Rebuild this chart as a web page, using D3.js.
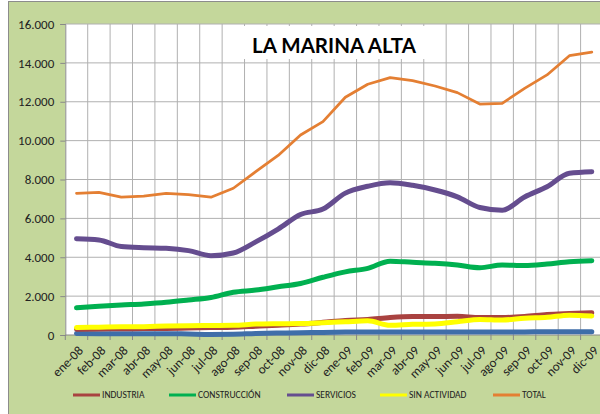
<!DOCTYPE html>
<html>
<head>
<meta charset="utf-8">
<script src="https://cdn.jsdelivr.net/npm/d3@7"></script>
<style>
  body { margin: 0; background: #fff; }
  svg { display: block; }
</style>
</head>
<body>
<div id="chart"></div>
<script>
// months of 2008-2009
const months = ["ene-08","feb-08","mar-08","abr-08","may-08","jun-08","jul-08","ago-08","sep-08","oct-08","nov-08","dic-08",
                "ene-09","feb-09","mar-09","abr-09","may-09","jun-09","jul-09","ago-09","sep-09","oct-09","nov-09","dic-09"];

const agricultura = [80, 70, 60, 60, 70, 50, 30, 40, 80, 100, 120, 130, 150, 160, 150, 160, 150, 160, 150, 150, 160, 170, 170, 170];
const industria = [300, 310, 320, 330, 340, 360, 380, 400, 450, 500, 560, 650, 750, 800, 900, 950, 950, 960, 900, 900, 950, 1050, 1100, 1140];
const construccion = [1400, 1480, 1545, 1600, 1680, 1800, 1930, 2200, 2310, 2480, 2650, 2970, 3250, 3430, 3800, 3740, 3690, 3600, 3460, 3600, 3570, 3650, 3770, 3820];
const servicios = [4950, 4890, 4550, 4490, 4460, 4340, 4080, 4220, 4790, 5450, 6200, 6480, 7300, 7650, 7830, 7700, 7460, 7110, 6560, 6420, 7100, 7630, 8320, 8400];
const sinActividad = [380, 400, 420, 430, 460, 480, 490, 500, 560, 580, 590, 630, 680, 730, 500, 550, 570, 680, 800, 770, 860, 910, 1020, 980];
const total = [7290, 7340, 7090, 7150, 7290, 7220, 7090, 7550, 8400, 9240, 10290, 10980, 12230, 12900, 13240, 13090, 12810, 12470, 11880, 11920, 12690, 13380, 14370, 14550];

const yTicks = [0, 2000, 4000, 6000, 8000, 10000, 12000, 14000, 16000];

const series = [
  { name: "AGRICULTURA", values: agricultura, color: "#3f6ea9", width: 5, smooth: true },
  { name: "INDUSTRIA", values: industria, color: "#a94240", width: 5, smooth: true },
  { name: "SIN ACTIVIDAD", values: sinActividad, color: "#ffff00", width: 5, smooth: true },
  { name: "CONSTRUCCIÓN", values: construccion, color: "#00b050", width: 5, smooth: true },
  { name: "SERVICIOS", values: servicios, color: "#654d8f", width: 5, smooth: true },
  { name: "TOTAL", values: total, color: "#e47f33", width: 2.75, smooth: false }
];
// agricultura has no legend entry in the original
const legendOrder = ["INDUSTRIA", "CONSTRUCCIÓN", "SERVICIOS", "SIN ACTIVIDAD", "TOTAL"];

const W = 600, H = 414;
const plotL = 65.3, plotR = 603, plotT = 24, plotB = 335;

const svg = d3.select("#chart").append("svg")
    .attr("width", W)
    .attr("height", H)
    .style("font-family", "Carlito, Lato, 'Liberation Sans', sans-serif");

// outer chart area
svg.append("rect")
    .attr("x", 8.5).attr("y", 1.5)
    .attr("width", W + 10).attr("height", H + 10)
    .attr("fill", "#c4d79b")
    .attr("stroke", "#8c8c8c");

svg.append("rect")
    .attr("x", plotL).attr("y", plotT)
    .attr("width", plotR - plotL).attr("height", plotB - plotT)
    .attr("fill", "#fff");

const x = d3.scaleBand().domain(months).range([plotL, plotR]);
const y = d3.scaleLinear().domain([0, 16000]).range([plotB, plotT]);
const cx = d => x(d) + x.bandwidth() / 2;

const esFormat = d3.formatLocale({ decimal: ",", thousands: ".", grouping: [3], currency: ["", "€"] }).format(",d");

// grid
svg.append("g").selectAll("line")
    .data(yTicks.slice(1))
    .join("line")
    .attr("x1", plotL).attr("x2", plotR)
    .attr("y1", d => y(d)).attr("y2", d => y(d))
    .attr("stroke", "#b0b0b0").attr("stroke-width", 1);

svg.append("g").selectAll("line")
    .data(months.slice(1))
    .join("line")
    .attr("x1", d => x(d)).attr("x2", d => x(d))
    .attr("y1", plotT).attr("y2", plotB)
    .attr("stroke", "#b0b0b0").attr("stroke-width", 1);

// y axis
const yAxis = svg.append("g")
    .attr("transform", `translate(${plotL},0)`)
    .call(d3.axisLeft(y).tickValues(yTicks).tickFormat(esFormat).tickSize(5).tickPadding(6));
yAxis.select(".domain").attr("stroke", "#888");
yAxis.selectAll(".tick line").attr("stroke", "#888");
yAxis.selectAll("text").attr("font-size", 13).attr("fill", "#222")
    .style("font-family", "Carlito, 'Open Sans', sans-serif");

// x axis: ticks at category boundaries
const xAxis = svg.append("g").attr("transform", `translate(0,${plotB})`);
xAxis.append("line")
    .attr("x1", plotL).attr("x2", plotR)
    .attr("stroke", "#888");
xAxis.selectAll("line.tk")
    .data(months)
    .join("line").attr("class", "tk")
    .attr("x1", d => x(d)).attr("x2", d => x(d))
    .attr("y1", 0).attr("y2", 5)
    .attr("stroke", "#888");
xAxis.selectAll("text")
    .data(months)
    .join("text")
    .attr("transform", d => `translate(${cx(d) + 1},${10}) rotate(-45)`)
    .attr("text-anchor", "end")
    .attr("dy", "0.7em")
    .attr("font-size", 13)
    .attr("fill", "#222")
    .style("font-family", "Carlito, 'Open Sans', sans-serif")
    .text(d => d);

// lines
const plot = svg.append("g");
series.forEach(s => {
  const line = d3.line()
      .x((d, i) => cx(months[i]))
      .y(d => y(d))
      .curve(s.smooth ? d3.curveMonotoneX : d3.curveLinear);
  plot.append("path")
      .datum(s.values)
      .attr("fill", "none")
      .attr("stroke", s.color)
      .attr("stroke-width", s.width)
      .attr("stroke-linecap", "round")
      .attr("stroke-linejoin", "round")
      .attr("d", line);
});

// title
svg.append("rect")
    .attr("x", 243).attr("y", 26)
    .attr("width", 183).attr("height", 33)
    .attr("fill", "#fff");
svg.append("text")
    .attr("x", 334).attr("y", 53)
    .attr("text-anchor", "middle")
    .attr("font-size", 20.5)
    .attr("font-weight", "bold")
    .attr("fill", "#000")
    .style("font-family", "Lato, 'Open Sans', sans-serif")
    .text("LA MARINA ALTA");

// legend
const legendX = [73, 169, 287, 380, 493];
const legend = svg.append("g").attr("transform", "translate(0,395)");
legendOrder.forEach((name, i) => {
  const s = series.find(d => d.name === name);
  const g = legend.append("g").attr("transform", `translate(${legendX[i]},0)`);
  g.append("line")
      .attr("x1", 0).attr("x2", 27)
      .attr("stroke", s.color).attr("stroke-width", 3);
  g.append("text")
      .attr("x", 29).attr("dy", "0.35em")
      .attr("font-size", 9.5)
      .attr("fill", "#222")
      .style("font-family", "Carlito, 'Open Sans', sans-serif")
      .text(name);
});
</script>
</body>
</html>
